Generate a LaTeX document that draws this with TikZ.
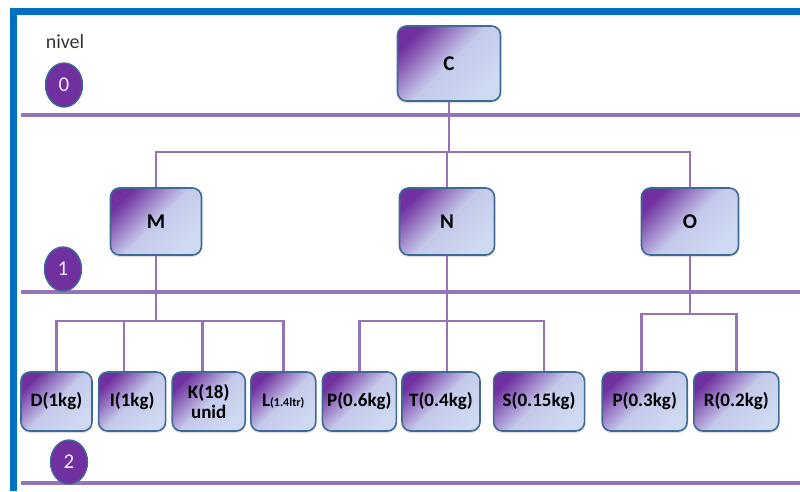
\documentclass[tikz,border=0pt]{standalone}
\usepackage{fontspec}
\setmainfont{Carlito}
\usepackage{xcolor}
\usetikzlibrary{positioning,shapes.geometric,shadows}

\definecolor{marco}{RGB}{0,112,192}
\definecolor{lila}{RGB}{148,116,182}
\definecolor{morado}{RGB}{112,48,160}
\definecolor{celeste}{RGB}{206,218,242}
\definecolor{borde}{RGB}{62,106,148}
\definecolor{gris}{RGB}{51,51,51}

\begin{document}
\begin{tikzpicture}[x=1pt, y=-1pt, node distance=5pt]
  \tikzstyle{caja}=[draw=borde, line width=1.6pt, rounded corners=9pt,
    top color=morado, bottom color=celeste, middle color=celeste!90!morado,
    shading angle=45, drop shadow={shadow xshift=0pt, shadow yshift=-2pt, opacity=.25},
    align=center, inner sep=2pt, text=black]
  \tikzstyle{padre}=[caja, minimum height=67pt, font=\bfseries\fontsize{21}{23}\selectfont]
  \tikzstyle{hoja}=[caja, minimum height=59pt, font=\bfseries\fontsize{19}{20}\selectfont]
  \tikzstyle{nivelc}=[ellipse, draw=borde, line width=1.4pt, fill=morado,
    minimum width=37pt, minimum height=44pt, inner sep=0pt, text=white!90!morado,
    font=\fontsize{21}{23}\selectfont]
  \tikzstyle{conexion}=[draw=lila, line width=2.6pt]
  \tikzstyle{nivelline}=[draw=lila, line width=3.5pt]

  \useasboundingbox (0,0) rectangle (800,491);
  % marco azul
  \fill[marco] (10,8) rectangle (800,15);
  \fill[marco] (10,8) rectangle (17,491);

  % lineas de nivel
  \draw[nivelline] (21,115) -- (800,115);
  \draw[nivelline] (21,292) -- (800,292);
  \draw[nivelline] (21,483) -- (800,483);

  \node[font=\fontsize{20}{22}\selectfont, text=gris] (nivel) at (65,42) {nivel};
  \node[nivelc] (n0) at (64,85) {0};
  \node[nivelc] (n1) at (63,269) {1};
  \node[nivelc] (n2) at (69,462) {2};

  % nivel 0 y 1
  \node[padre, minimum width=103pt, minimum height=75pt] (C) at (449,63.5) {C};
  \node[padre, minimum width=91pt] (M) at (156,221.5) {M};
  \node[padre, minimum width=95pt] (N) at (447,221.5) {N};
  \node[padre, minimum width=97pt] (O) at (690,221.5) {O};

  % nivel 2
  \node[hoja, minimum width=71pt] (D) at (56.5,401.5) {D(1kg)};
  \node[hoja, minimum width=67pt, right=5pt of D] (I) {I(1kg)};
  \node[hoja, minimum width=73pt, right=5pt of I] (K) {K(18)\\unid};
  \node[hoja, minimum width=65pt, right=4pt of K] (L) {L{\fontsize{12}{14}\selectfont(1.4ltr)}};
  \node[hoja, minimum width=74pt, right=5pt of L] (P1) {P(0.6kg)};
  \node[hoja, minimum width=78pt, right=4pt of P1] (T) {T(0.4kg)};
  \node[hoja, minimum width=91pt, right=12pt of T] (S) {S(0.15kg)};
  \node[hoja, minimum width=85pt, right=16pt of S] (P2) {P(0.3kg)};
  \node[hoja, minimum width=85pt, right=5pt of P2] (R) {R(0.2kg)};

  % buses
  \coordinate (bc) at (449,152);
  \coordinate (bm) at (156,321);
  \coordinate (bn) at (447,321);
  \coordinate (bo) at (690,314);

  \draw[conexion] (C) -- (bc);
  \draw[conexion] (bc) -| (M);
  \draw[conexion] (bc) -| (N);
  \draw[conexion] (bc) -| (O);

  \draw[conexion] (M) -- (bm);
  \draw[conexion] (bm) -| (D);
  \draw[conexion] (bm) -| ([xshift=-8pt]I.north);
  \draw[conexion] (bm) -| ([xshift=-6pt]K.north);
  \draw[conexion] (bm) -| (L);

  \draw[conexion] (N) -- (bn);
  \draw[conexion] (bn) -| (P1);
  \draw[conexion] (bn) -| ([xshift=6pt]T.north);
  \draw[conexion] (bn) -| ([xshift=5pt]S.north);

  \draw[conexion] (O) -- (bo);
  \draw[conexion] (bo) -| ([xshift=-3pt]P2.north);
  \draw[conexion] (bo) -| (R);
\end{tikzpicture}
\end{document}
